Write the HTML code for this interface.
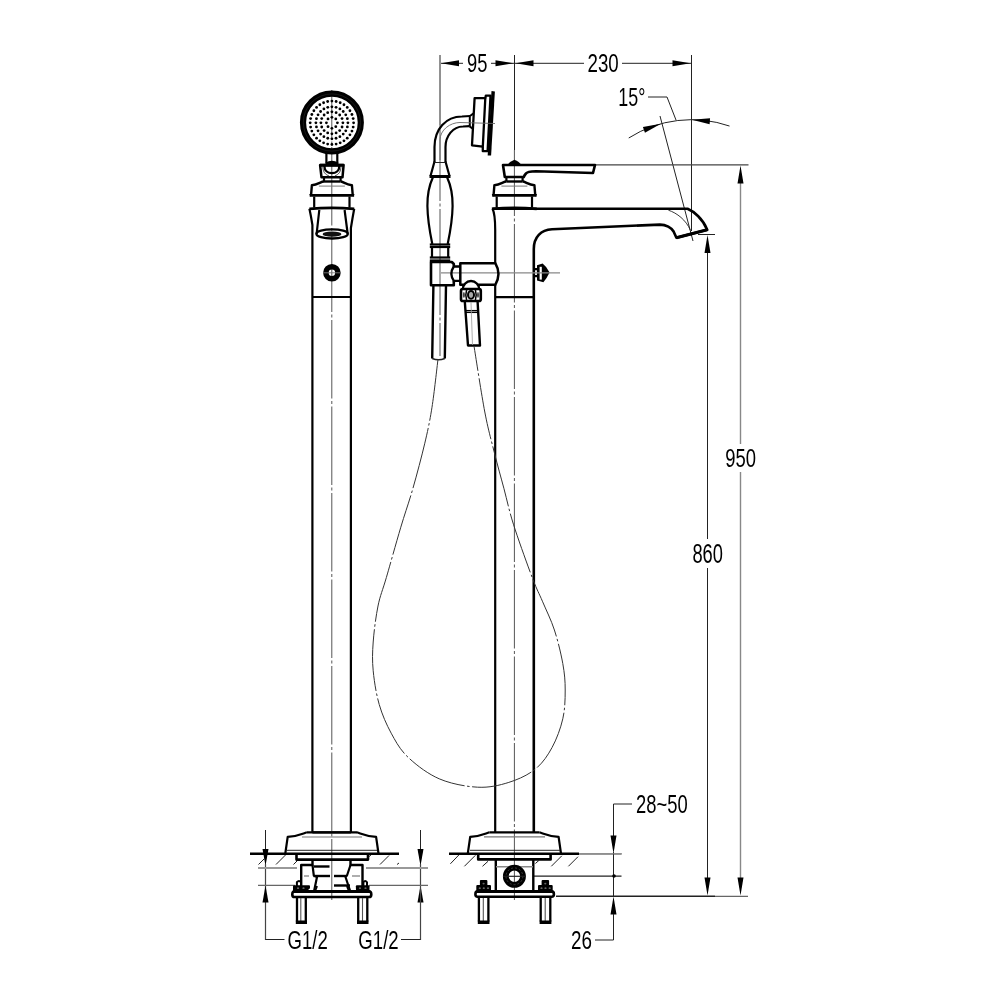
<!DOCTYPE html>
<html><head><meta charset="utf-8"><style>
html,body{margin:0;padding:0;background:#fff;width:1000px;height:1000px;overflow:hidden}
svg{display:block;will-change:transform}
.k{fill:none;stroke:#000;stroke-width:2.2;stroke-linejoin:round}
.t{fill:none;stroke:#222;stroke-width:1}
.tg{fill:none;stroke:#777;stroke-width:1.2}
.c{fill:none;stroke:#555;stroke-width:1;stroke-dasharray:80 2.5 3 2.5}
.a{fill:#000;stroke:none}
text{font-family:"Liberation Sans",sans-serif;fill:#000}
</style></head><body>
<svg width="1000" height="1000" viewBox="0 0 1000 1000">
<line x1="440" y1="55" x2="440" y2="125" fill="none" stroke="#222" stroke-width="1"/>
<line x1="514.5" y1="55" x2="514.5" y2="150" fill="none" stroke="#222" stroke-width="1"/>
<line x1="691.5" y1="55" x2="691.5" y2="231" fill="none" stroke="#222" stroke-width="1"/>
<line x1="441" y1="63.3" x2="463" y2="63.3" fill="none" stroke="#222" stroke-width="1"/>
<line x1="491" y1="63.3" x2="584" y2="63.3" fill="none" stroke="#222" stroke-width="1"/>
<line x1="622" y1="63.3" x2="691" y2="63.3" fill="none" stroke="#222" stroke-width="1"/>
<path fill="#000" d="M441.00,63.30 L459.00,60.30 L459.00,66.30 Z"/>
<path fill="#000" d="M513.50,63.30 L495.50,66.30 L495.50,60.30 Z"/>
<path fill="#000" d="M515.50,63.30 L533.50,60.30 L533.50,66.30 Z"/>
<path fill="#000" d="M690.50,63.30 L672.50,66.30 L672.50,60.30 Z"/>
<text x="466.97" y="72.14" font-size="25.92" textLength="20.40" lengthAdjust="spacingAndGlyphs" >95</text>
<text x="587.57" y="72.24" font-size="26.41" textLength="31.15" lengthAdjust="spacingAndGlyphs" >230</text>
<text x="618.26" y="106.34" font-size="26.20" textLength="27.06" lengthAdjust="spacingAndGlyphs" >15°</text>
<path d="M648,97 L667,97 L676,120" fill="none" stroke="#222" stroke-width="1"/>
<line x1="660" y1="116" x2="693" y2="241" fill="none" stroke="#222" stroke-width="1"/>
<path fill="none" stroke="#222" stroke-width="1" d="M628.74,137.99 A116.8,116.8 0 0 1 729.53,126.06"/>
<path fill="#000" d="M660.88,123.79 L644.93,132.65 L642.91,127.00 Z"/>
<path fill="#000" d="M691.91,119.70 L710.09,118.16 L709.61,124.14 Z"/>
<line x1="592" y1="164.8" x2="748.5" y2="164.8" fill="none" stroke="#444" stroke-width="1.2"/>
<line x1="740.5" y1="183" x2="740.5" y2="444" fill="none" stroke="#888" stroke-width="1.4"/>
<line x1="740.5" y1="472" x2="740.5" y2="878" fill="none" stroke="#888" stroke-width="1.4"/>
<path fill="#000" d="M740.50,165.50 L743.50,183.50 L737.50,183.50 Z"/>
<path fill="#000" d="M740.50,895.50 L737.50,877.50 L743.50,877.50 Z"/>
<text x="725.17" y="467.34" font-size="26.48" textLength="30.74" lengthAdjust="spacingAndGlyphs" >950</text>
<line x1="698" y1="234.5" x2="715" y2="234.5" fill="none" stroke="#222" stroke-width="1"/>
<line x1="707.5" y1="252" x2="707.5" y2="539" fill="none" stroke="#222" stroke-width="1"/>
<line x1="707.5" y1="568" x2="707.5" y2="878" fill="none" stroke="#222" stroke-width="1"/>
<path fill="#000" d="M707.50,235.00 L710.50,253.00 L704.50,253.00 Z"/>
<path fill="#000" d="M707.50,895.50 L704.50,877.50 L710.50,877.50 Z"/>
<text x="692.38" y="563.33" font-size="27.04" textLength="30.53" lengthAdjust="spacingAndGlyphs" >860</text>
<line x1="556" y1="896.3" x2="715" y2="896.3" fill="none" stroke="#222" stroke-width="1.6"/>
<line x1="715" y1="896.3" x2="748" y2="896.3" fill="none" stroke="#666" stroke-width="1.3"/>
<text x="636.08" y="813.23" font-size="26.62" textLength="51.63" lengthAdjust="spacingAndGlyphs" >28~50</text>
<path d="M632,804 L613.5,804 L613.5,836" fill="none" stroke="#222" stroke-width="1"/>
<path fill="#000" d="M613.50,853.50 L610.50,835.50 L616.50,835.50 Z"/>
<line x1="579" y1="854" x2="621.5" y2="854" fill="none" stroke="#444" stroke-width="1.2"/>
<line x1="613.5" y1="852" x2="613.5" y2="896" fill="none" stroke="#222" stroke-width="1"/>
<line x1="533" y1="876.2" x2="621.5" y2="876.2" fill="none" stroke="#222" stroke-width="1.3"/>
<circle cx="614" cy="876" r="1.8" fill="#000"/>
<path fill="#000" d="M613.50,896.50 L616.50,914.50 L610.50,914.50 Z"/>
<path d="M613.5,914 L613.5,940 L595,940" fill="none" stroke="#222" stroke-width="1"/>
<text x="571.06" y="949.43" font-size="26.62" textLength="20.94" lengthAdjust="spacingAndGlyphs" >26</text>
<line x1="265.5" y1="830" x2="265.5" y2="849" fill="none" stroke="#222" stroke-width="1"/>
<path fill="#000" d="M265.50,866.00 L262.50,849.00 L268.50,849.00 Z"/>
<line x1="265.5" y1="864" x2="265.5" y2="940" fill="none" stroke="#444" stroke-width="1.2"/>
<path fill="#000" d="M265.50,885.50 L268.50,902.50 L262.50,902.50 Z"/>
<line x1="265.5" y1="939.5" x2="284.5" y2="939.5" fill="none" stroke="#222" stroke-width="1"/>
<line x1="420.5" y1="830" x2="420.5" y2="849" fill="none" stroke="#222" stroke-width="1"/>
<path fill="#000" d="M420.50,866.00 L417.50,849.00 L423.50,849.00 Z"/>
<path fill="#000" d="M420.50,885.50 L423.50,902.50 L417.50,902.50 Z"/>
<line x1="420.5" y1="864" x2="420.5" y2="940" fill="none" stroke="#444" stroke-width="1.2"/>
<line x1="401" y1="939.5" x2="420.5" y2="939.5" fill="none" stroke="#222" stroke-width="1"/>
<text x="287.57" y="949.44" font-size="25.58" textLength="40.21" lengthAdjust="spacingAndGlyphs" >G1/2</text>
<text x="358.37" y="949.44" font-size="25.58" textLength="40.31" lengthAdjust="spacingAndGlyphs" >G1/2</text>
<line x1="258" y1="868" x2="297" y2="868" fill="none" stroke="#999" stroke-width="2"/>
<line x1="366" y1="868" x2="428" y2="868" fill="none" stroke="#999" stroke-width="2"/>
<line x1="258" y1="885.4" x2="295" y2="885.4" fill="none" stroke="#666" stroke-width="1.4"/>
<line x1="369" y1="885.4" x2="428" y2="885.4" fill="none" stroke="#666" stroke-width="1.4"/>
<line fill="none" stroke="#555" stroke-width="1" stroke-dasharray="78.5 2.5 3 2.5" x1="331.8" y1="90" x2="331.8" y2="900" stroke-dashoffset="29.5"/>
<circle cx="331.9" cy="122.5" r="28.9" fill="none" stroke="#000" stroke-width="6.2"/>
<circle cx="331.9" cy="122.5" r="28.6" fill="none" stroke="#2a2a2a" stroke-width="0.6"/>
<circle cx="331.90" cy="101.10" r="1.4" fill="#000"/>
<circle cx="336.13" cy="101.52" r="1.4" fill="#000"/>
<circle cx="340.20" cy="102.75" r="1.4" fill="#000"/>
<circle cx="343.96" cy="104.76" r="1.4" fill="#000"/>
<circle cx="347.24" cy="107.46" r="1.4" fill="#000"/>
<circle cx="349.94" cy="110.74" r="1.4" fill="#000"/>
<circle cx="351.95" cy="114.50" r="1.4" fill="#000"/>
<circle cx="353.18" cy="118.57" r="1.4" fill="#000"/>
<circle cx="353.60" cy="122.80" r="1.4" fill="#000"/>
<circle cx="353.18" cy="127.03" r="1.4" fill="#000"/>
<circle cx="351.95" cy="131.10" r="1.4" fill="#000"/>
<circle cx="349.94" cy="134.86" r="1.4" fill="#000"/>
<circle cx="347.24" cy="138.14" r="1.4" fill="#000"/>
<circle cx="343.96" cy="140.84" r="1.4" fill="#000"/>
<circle cx="340.20" cy="142.85" r="1.4" fill="#000"/>
<circle cx="336.13" cy="144.08" r="1.4" fill="#000"/>
<circle cx="331.90" cy="144.50" r="1.4" fill="#000"/>
<circle cx="327.67" cy="144.08" r="1.4" fill="#000"/>
<circle cx="323.60" cy="142.85" r="1.4" fill="#000"/>
<circle cx="319.84" cy="140.84" r="1.4" fill="#000"/>
<circle cx="316.56" cy="138.14" r="1.4" fill="#000"/>
<circle cx="313.86" cy="134.86" r="1.4" fill="#000"/>
<circle cx="311.85" cy="131.10" r="1.4" fill="#000"/>
<circle cx="310.62" cy="127.03" r="1.4" fill="#000"/>
<circle cx="310.20" cy="122.80" r="1.4" fill="#000"/>
<circle cx="310.62" cy="118.57" r="1.4" fill="#000"/>
<circle cx="311.85" cy="114.50" r="1.4" fill="#000"/>
<circle cx="313.86" cy="110.74" r="1.4" fill="#000"/>
<circle cx="316.56" cy="107.46" r="1.4" fill="#000"/>
<circle cx="319.84" cy="104.76" r="1.4" fill="#000"/>
<circle cx="323.60" cy="102.75" r="1.4" fill="#000"/>
<circle cx="327.67" cy="101.52" r="1.4" fill="#000"/>
<circle cx="331.90" cy="106.80" r="1.4" fill="#000"/>
<circle cx="336.04" cy="107.35" r="1.4" fill="#000"/>
<circle cx="339.90" cy="108.94" r="1.4" fill="#000"/>
<circle cx="343.21" cy="111.49" r="1.4" fill="#000"/>
<circle cx="345.76" cy="114.80" r="1.4" fill="#000"/>
<circle cx="347.35" cy="118.66" r="1.4" fill="#000"/>
<circle cx="347.90" cy="122.80" r="1.4" fill="#000"/>
<circle cx="347.35" cy="126.94" r="1.4" fill="#000"/>
<circle cx="345.76" cy="130.80" r="1.4" fill="#000"/>
<circle cx="343.21" cy="134.11" r="1.4" fill="#000"/>
<circle cx="339.90" cy="136.66" r="1.4" fill="#000"/>
<circle cx="336.04" cy="138.25" r="1.4" fill="#000"/>
<circle cx="331.90" cy="138.80" r="1.4" fill="#000"/>
<circle cx="327.76" cy="138.25" r="1.4" fill="#000"/>
<circle cx="323.90" cy="136.66" r="1.4" fill="#000"/>
<circle cx="320.59" cy="134.11" r="1.4" fill="#000"/>
<circle cx="318.04" cy="130.80" r="1.4" fill="#000"/>
<circle cx="316.45" cy="126.94" r="1.4" fill="#000"/>
<circle cx="315.90" cy="122.80" r="1.4" fill="#000"/>
<circle cx="316.45" cy="118.66" r="1.4" fill="#000"/>
<circle cx="318.04" cy="114.80" r="1.4" fill="#000"/>
<circle cx="320.59" cy="111.49" r="1.4" fill="#000"/>
<circle cx="323.90" cy="108.94" r="1.4" fill="#000"/>
<circle cx="327.76" cy="107.35" r="1.4" fill="#000"/>
<circle cx="331.90" cy="111.80" r="1.4" fill="#000"/>
<circle cx="336.11" cy="112.64" r="1.4" fill="#000"/>
<circle cx="339.68" cy="115.02" r="1.4" fill="#000"/>
<circle cx="342.06" cy="118.59" r="1.4" fill="#000"/>
<circle cx="342.90" cy="122.80" r="1.4" fill="#000"/>
<circle cx="342.06" cy="127.01" r="1.4" fill="#000"/>
<circle cx="339.68" cy="130.58" r="1.4" fill="#000"/>
<circle cx="336.11" cy="132.96" r="1.4" fill="#000"/>
<circle cx="331.90" cy="133.80" r="1.4" fill="#000"/>
<circle cx="327.69" cy="132.96" r="1.4" fill="#000"/>
<circle cx="324.12" cy="130.58" r="1.4" fill="#000"/>
<circle cx="321.74" cy="127.01" r="1.4" fill="#000"/>
<circle cx="320.90" cy="122.80" r="1.4" fill="#000"/>
<circle cx="321.74" cy="118.59" r="1.4" fill="#000"/>
<circle cx="324.12" cy="115.02" r="1.4" fill="#000"/>
<circle cx="327.69" cy="112.64" r="1.4" fill="#000"/>
<circle cx="331.90" cy="117.30" r="1.4" fill="#000"/>
<circle cx="335.79" cy="118.91" r="1.4" fill="#000"/>
<circle cx="337.40" cy="122.80" r="1.4" fill="#000"/>
<circle cx="335.79" cy="126.69" r="1.4" fill="#000"/>
<circle cx="331.90" cy="128.30" r="1.4" fill="#000"/>
<circle cx="328.01" cy="126.69" r="1.4" fill="#000"/>
<circle cx="326.40" cy="122.80" r="1.4" fill="#000"/>
<circle cx="328.01" cy="118.91" r="1.4" fill="#000"/>
<line x1="326.4" y1="153" x2="326.4" y2="163" fill="none" stroke="#000" stroke-width="2.2" stroke-linejoin="round"/>
<line x1="337.3" y1="153" x2="337.3" y2="163" fill="none" stroke="#000" stroke-width="2.2" stroke-linejoin="round"/>
<path d="M320.1,165.1 L343.6,165.1 L342.5,177.3 L321.5,177.3 Z" fill="none" stroke="#000" stroke-width="2.5" stroke-linejoin="round"/>
<path d="M325.4,166 L325.4,162.8 Q331.9,158.6 338.5,162.8 L338.5,166 Z" fill="#000" stroke="none"/>
<line x1="320.1" y1="165.3" x2="343.6" y2="165.3" fill="none" stroke="#000" stroke-width="3" stroke-linejoin="round"/>
<path d="M324.4,166 C324.4,171 328,173.2 331.9,173.2 C335.8,173.2 339.3,171 339.3,166" fill="none" stroke="#000" stroke-width="2.3" stroke-linejoin="round"/>
<path d="M322.8,167 Q323,174 329,176 M341,167 Q340.8,174 334.8,176" fill="none" stroke="#222" stroke-width="0.8"/>
<path d="M324.0,177.3 L324.0,181.5 M340.59999999999997,177.3 L340.59999999999997,181.5" fill="none" stroke="#000" stroke-width="2.2" stroke-linejoin="round"/>
<line x1="324.0" y1="181.5" x2="340.59999999999997" y2="181.5" fill="none" stroke="#000" stroke-width="2.4" stroke-linejoin="round"/>
<path d="M324.0,181.5 C320.9,181.5 317.9,184.8 311.9,185.2 L311.09999999999997,194.6 L310.0,195.5" fill="none" stroke="#000" stroke-width="2.4" stroke-linejoin="round"/>
<path d="M340.59999999999997,181.5 C342.9,181.5 345.9,184.8 351.9,185.2 L352.7,194.6 L353.79999999999995,195.5" fill="none" stroke="#000" stroke-width="2.4" stroke-linejoin="round"/>
<line x1="318.9" y1="186.1" x2="344.9" y2="186.1" fill="none" stroke="#777" stroke-width="1"/>
<line x1="309.7" y1="195.4" x2="354.09999999999997" y2="195.4" fill="none" stroke="#000" stroke-width="2.9" stroke-linejoin="round"/>
<line x1="314.2" y1="196.5" x2="314.2" y2="207.6" fill="none" stroke="#000" stroke-width="2.2" stroke-linejoin="round"/>
<line x1="349.5" y1="196.5" x2="349.5" y2="207.6" fill="none" stroke="#000" stroke-width="2.2" stroke-linejoin="round"/>
<path d="M309.4,208.8 Q331.9,206.8 354.2,208.8" fill="none" stroke="#000" stroke-width="2.8" stroke-linejoin="round"/>
<path d="M309.4,208.8 Q310.8,215 312.4,225 L312.4,832" fill="none" stroke="#000" stroke-width="2.2" stroke-linejoin="round"/>
<path d="M354.2,208.8 Q352.5,218 350.9,228 L350.9,832" fill="none" stroke="#000" stroke-width="2.2" stroke-linejoin="round"/>
<path d="M319.3,210 L316.6,234 M344.6,210 L347.7,234" fill="none" stroke="#000" stroke-width="2.2" stroke-linejoin="round"/>
<ellipse cx="332.1" cy="233.9" rx="15.7" ry="4.6" fill="none" stroke="#000" stroke-width="2.3"/>
<ellipse cx="332" cy="234.2" rx="9.4" ry="2.6" fill="#111"/>
<circle cx="331.9" cy="272.8" r="6" fill="none" stroke="#000" stroke-width="5.6"/>
<line x1="323" y1="272.8" x2="340.8" y2="272.8" fill="none" stroke="#777" stroke-width="0.9"/>
<line x1="312.4" y1="297" x2="350.9" y2="297" fill="none" stroke="#000" stroke-width="2.2" stroke-linejoin="round"/>
<line fill="none" stroke="#555" stroke-width="1" stroke-dasharray="78.5 2.5 3 2.5" x1="514.4" y1="150" x2="514.4" y2="900" stroke-dashoffset="12.5"/>
<path d="M506.8,165.5 Q509.5,161.5 514.4,159.8 Q519.3,161.5 521.5,165.5 Z" fill="#000" stroke="none"/>
<path d="M503,165 L595,165 L593,173 L536,171.3 C530,171.5 527,172 526,173.5 Q524.5,175 523.8,177 L504.8,177 Z" fill="none" stroke="#000" stroke-width="2.6" stroke-linejoin="round"/>
<path d="M506.4,177.3 L506.4,181.5 M522.6,177.3 L522.6,181.5" fill="none" stroke="#000" stroke-width="2.2" stroke-linejoin="round"/>
<line x1="506.4" y1="181.5" x2="522.6" y2="181.5" fill="none" stroke="#000" stroke-width="2.4" stroke-linejoin="round"/>
<path d="M506.4,181.5 C503.4,181.5 500.4,184.8 494.4,185.2 L493.59999999999997,194.6 L492.5,195.5" fill="none" stroke="#000" stroke-width="2.4" stroke-linejoin="round"/>
<path d="M522.6,181.5 C525.4,181.5 528.4,184.8 534.4,185.2 L535.1999999999999,194.6 L536.3,195.5" fill="none" stroke="#000" stroke-width="2.4" stroke-linejoin="round"/>
<line x1="501.4" y1="186.1" x2="527.4" y2="186.1" fill="none" stroke="#777" stroke-width="1"/>
<line x1="492.2" y1="195.4" x2="536.6" y2="195.4" fill="none" stroke="#000" stroke-width="2.9" stroke-linejoin="round"/>
<line x1="496.7" y1="196.5" x2="496.7" y2="207.6" fill="none" stroke="#000" stroke-width="2.2" stroke-linejoin="round"/>
<line x1="532.0" y1="196.5" x2="532.0" y2="207.6" fill="none" stroke="#000" stroke-width="2.2" stroke-linejoin="round"/>
<path d="M491.9,208.8 Q514.4,206.8 536.6999999999999,208.8" fill="none" stroke="#000" stroke-width="2.8" stroke-linejoin="round"/>
<path d="M492.5,208.8 L687.6,208.8 C694,211.5 703,219 707.2,229.8 L676.4,237.8 L673.6,231.5 C671.5,227.8 666,224.6 660,224.6 L552,229.3 C541,229.8 533.8,237 533.8,249 L533.8,832" fill="none" stroke="#000" stroke-width="2.6" stroke-linejoin="round"/>
<path d="M707.2,229.8 L676.4,237.8" fill="none" stroke="#000" stroke-width="3.2" stroke-linejoin="round"/>
<path d="M668.4,210.2 C677,213 686,220 690.4,230.2" fill="none" stroke="#222" stroke-width="0.9"/>
<path d="M492.5,208.8 Q495.2,214 495.2,230 L495.2,263.5 M495.2,285 L495.2,832" fill="none" stroke="#000" stroke-width="2.2" stroke-linejoin="round"/>
<path d="M533.8,269.2 L538,269.2 L538,276.2 L533.8,276.2" fill="none" stroke="#000" stroke-width="2.2" stroke-linejoin="round"/>
<path d="M537,265.2 L542.6,263.6 Q546.5,266.5 549.6,272.6 Q546.5,279 543.4,282.2 L537,280.4 Z" fill="#000" stroke="none"/>
<rect x="539.6" y="266.8" width="2.2" height="12.8" fill="#fff"/>
<line x1="441" y1="272.8" x2="560" y2="272.8" fill="none" stroke="#888" stroke-width="1.2"/>
<line x1="495.2" y1="297.2" x2="533.8" y2="297.2" fill="none" stroke="#000" stroke-width="2.2" stroke-linejoin="round"/>
<line fill="none" stroke="#555" stroke-width="1" stroke-dasharray="106 2.5 3 2.5" x1="440" y1="125" x2="440" y2="356" stroke-dashoffset="30"/>
<path d="M474.6,98.2 L485.3,98.2 L482.8,146.7 L472,145.3 Z" fill="none" stroke="#000" stroke-width="2.3" stroke-linejoin="round"/>
<path d="M485.3,98.2 L485.8,95.6 L490.5,95.6 L487.6,151.2 L482.8,151.2 L482.8,146.7" fill="none" stroke="#000" stroke-width="2.3" stroke-linejoin="round"/>
<path d="M491.5,91.1 L494.9,91.4 L491.1,155.4 L487.7,155.4 Z" fill="#000" stroke="none"/>
<path d="M469.6,116.2 L473.6,113.4 M469.6,126.4 L473.4,129.2 M469.8,116.2 L469.8,126.4" fill="none" stroke="#000" stroke-width="2" stroke-linejoin="round"/>
<path d="M434.5,162 L434.5,147 C434.5,129 446,116.5 462,116.5 L470,116" fill="none" stroke="#000" stroke-width="2.2" stroke-linejoin="round"/>
<path d="M445.5,162 L445.5,147 C445.5,136 453,126.5 463,126.5 L469.5,126.2" fill="none" stroke="#000" stroke-width="2.2" stroke-linejoin="round"/>
<path d="M440,160 L440,140 C440,130 450,122.5 460,122.5 L495,123.5" fill="none" stroke="#666" stroke-width="0.9"/>
<path d="M434.5,161.5 L430.5,176 M445.5,161.5 L449.5,176" fill="none" stroke="#000" stroke-width="2.2" stroke-linejoin="round"/>
<line x1="434.5" y1="162.5" x2="445.5" y2="162.5" fill="none" stroke="#222" stroke-width="1"/>
<line x1="429.5" y1="176.5" x2="450.5" y2="176.5" fill="none" stroke="#000" stroke-width="3" stroke-linejoin="round"/>
<path d="M432.8,177.5 C428.5,187 427.3,197 427.4,206 C427.6,220 430,233 432.3,244" fill="none" stroke="#000" stroke-width="2.2" stroke-linejoin="round"/>
<path d="M447.2,177.5 C451.5,187 452.7,197 452.6,206 C452.4,220 450,233 447.7,244" fill="none" stroke="#000" stroke-width="2.2" stroke-linejoin="round"/>
<line x1="429.8" y1="244.5" x2="450.2" y2="244.5" fill="none" stroke="#000" stroke-width="2.2" stroke-linejoin="round"/>
<line x1="429.8" y1="247" x2="450.2" y2="247" fill="none" stroke="#000" stroke-width="2.2" stroke-linejoin="round"/>
<path d="M432,247 L432,258 M448.2,247 L448.2,258" fill="none" stroke="#000" stroke-width="2.2" stroke-linejoin="round"/>
<line x1="429.8" y1="257.5" x2="450.2" y2="257.5" fill="none" stroke="#000" stroke-width="2.2" stroke-linejoin="round"/>
<line x1="429.8" y1="260.5" x2="450.2" y2="260.5" fill="none" stroke="#000" stroke-width="2.2" stroke-linejoin="round"/>
<path d="M453.8,266.5 L453.8,264 L451.8,262 L431,262 L431,285.3 L453.8,285.3 L453.8,280.9" fill="none" stroke="#000" stroke-width="2.6" stroke-linejoin="round"/>
<path d="M460.3,266.5 L453.8,266.5 Q449,273.7 453.8,280.9 L460.3,280.9" fill="none" stroke="#000" stroke-width="2.3" stroke-linejoin="round"/>
<path d="M460.3,263.2 L495.3,263.2 Q501.6,274 495.3,284.8 L460.3,284.8 Z" fill="none" stroke="#000" stroke-width="2.5" stroke-linejoin="round"/>
<path d="M462.8,289.5 A8.2,8.5 0 0 1 479.2,289.5 Z" fill="#fff" stroke="#000" stroke-width="2.4" stroke-linejoin="round"/>
<rect x="461" y="289" width="19.8" height="12" rx="1.8" fill="#fff" stroke="#000" stroke-width="2.6"/>
<ellipse cx="471" cy="294.9" rx="3" ry="3.8" fill="#aaa" stroke="#000" stroke-width="2"/>
<ellipse cx="463.9" cy="295" rx="1" ry="3" fill="#444"/>
<ellipse cx="478" cy="295" rx="1" ry="3" fill="#444"/>
<path d="M466.6,290 Q465,295 466.6,300 M475.4,290 Q477,295 475.4,300" fill="none" stroke="#000" stroke-width="1.5" stroke-linejoin="round"/>
<path d="M464.8,301.5 L468,345.5 L480,345.5 L477.6,301.5" fill="none" stroke="#000" stroke-width="2.4" stroke-linejoin="round"/>
<line x1="465.5" y1="310.6" x2="477.8" y2="310.6" fill="none" stroke="#000" stroke-width="1.3" stroke-linejoin="round"/>
<line x1="465.6" y1="312.4" x2="477.9" y2="312.4" fill="none" stroke="#000" stroke-width="1.3" stroke-linejoin="round"/>
<line x1="471" y1="302" x2="472.5" y2="345" fill="none" stroke="#999" stroke-width="0.8"/>
<path d="M433.4,285.3 L432.2,358.5 M446,285.3 L444.8,358.5" fill="none" stroke="#000" stroke-width="2.4" stroke-linejoin="round"/>
<path d="M432.2,358.5 Q438.5,361 444.8,358.5" fill="none" stroke="#222" stroke-width="1.4"/>
<path d="M438,359.2 C437.0,367.2 434.2,393.2 432,407.2 C429.8,421.2 428.0,429.6 424.8,443.2 C421.6,456.8 416.8,474.8 412.8,488.8 C408.8,502.8 405.2,512.4 400.8,527.2 C396.4,542.0 390.2,564.3 386.4,577.4 C382.6,590.5 380.2,595.2 378,606 C375.8,616.8 374.0,631.2 373.2,642 C372.4,652.8 372.2,660.4 373.2,670.8 C374.2,681.2 376.2,694.0 379.2,704.4 C382.2,714.8 386.4,724.4 391.2,733.2 C396.0,742.0 400.0,749.6 408,757.2 C416.0,764.8 427.6,773.8 439.2,778.8 C450.8,783.8 466.0,786.6 477.6,787.2 C489.2,787.8 499.2,785.4 508.8,782.4 C518.4,779.4 528.0,775.0 535.2,769.2 C542.4,763.4 547.4,756.0 552,747.6 C556.6,739.2 560.6,728.4 562.8,718.8 C565.0,709.2 565.2,699.2 565.2,690 C565.2,680.8 564.6,673.6 562.8,663.6 C561.0,653.6 557.8,640.4 554.4,630 C551.0,619.6 546.1,610.0 542.4,601.2 C538.7,592.5 537.0,590.2 532.2,577.5 C527.4,564.8 518.3,539.6 513.6,524.8 C508.9,510.0 507.2,500.8 504,488.8 C500.8,476.8 497.6,465.6 494.4,452.8 C491.2,440.0 488.2,429.8 484.8,412 C481.4,394.2 475.8,357.0 474,346" fill="none" stroke="#333" stroke-width="1" stroke-dasharray="62 2.5 2.5 2.5"/>
<path d="M312.4,832.4 L350.9,832.4" fill="none" stroke="#000" stroke-width="2.2" stroke-linejoin="round"/>
<path d="M307,832.4 L357,832.4" fill="none" stroke="#000" stroke-width="2.2" stroke-linejoin="round"/>
<path d="M306.9,832.3 C302.5,833.6 297.5,836.4 287.7,836.9 L285.3,853.5" fill="none" stroke="#000" stroke-width="2.2" stroke-linejoin="round"/>
<path d="M356.9,832.3 C361.3,833.6 366.3,836.4 376.1,836.9 L378.5,853.5" fill="none" stroke="#000" stroke-width="2.2" stroke-linejoin="round"/>
<line x1="302" y1="837" x2="362" y2="837" fill="none" stroke="#777" stroke-width="1.2"/>
<line x1="287" y1="850.3" x2="377" y2="850.3" fill="none" stroke="#222" stroke-width="1"/>
<line x1="250" y1="853.8" x2="399" y2="853.8" fill="none" stroke="#000" stroke-width="2.6" stroke-linejoin="round"/>
<path d="M296.5,854 L296.5,859.6 L368,859.6 L368,854" fill="none" stroke="#000" stroke-width="2.6" stroke-linejoin="round"/>
<line x1="258.5" y1="864.5" x2="265" y2="858" fill="none" stroke="#222" stroke-width="1"/>
<line x1="276" y1="864.5" x2="285.5" y2="855" fill="none" stroke="#222" stroke-width="1"/>
<line x1="293.5" y1="864.5" x2="297" y2="861" fill="none" stroke="#222" stroke-width="1"/>
<line x1="368.5" y1="857" x2="371" y2="855" fill="none" stroke="#222" stroke-width="1"/>
<line x1="380" y1="864.5" x2="389" y2="855.5" fill="none" stroke="#222" stroke-width="1"/>
<line x1="397" y1="864.5" x2="399" y2="863" fill="none" stroke="#222" stroke-width="1"/>
<path d="M312.5,859.6 L312.5,865 L301.2,865 L301.2,891" fill="none" stroke="#000" stroke-width="2.4" stroke-linejoin="round"/>
<path d="M350.5,859.6 L350.5,865 L362.5,865 L362.5,891" fill="none" stroke="#000" stroke-width="2.4" stroke-linejoin="round"/>
<path d="M312.5,865 L313.8,875.5 L317,877 L314.2,890.5" fill="none" stroke="#000" stroke-width="2.2" stroke-linejoin="round"/>
<path d="M350.5,865 L347,875.5 L345.5,877 L350,890.5" fill="none" stroke="#000" stroke-width="2.2" stroke-linejoin="round"/>
<line x1="314" y1="866.5" x2="329.5" y2="866.5" fill="none" stroke="#000" stroke-width="2.4" stroke-linejoin="round"/>
<line x1="313.5" y1="876" x2="330" y2="876" fill="none" stroke="#000" stroke-width="2.4" stroke-linejoin="round"/>
<line x1="334" y1="876" x2="347" y2="876" fill="none" stroke="#000" stroke-width="2.4" stroke-linejoin="round"/>
<line x1="334" y1="885.5" x2="350" y2="885.5" fill="none" stroke="#000" stroke-width="2.4" stroke-linejoin="round"/>
<line x1="304" y1="876" x2="309" y2="876" fill="none" stroke="#777" stroke-width="1.2"/>
<line x1="352" y1="876" x2="360" y2="876" fill="none" stroke="#777" stroke-width="1.2"/>
<rect x="293" y="885.3" width="17" height="6.7000000000000455" rx="1" fill="#000"/>
<ellipse cx="298" cy="888.2" rx="1.1" ry="0.9" fill="#666"/>
<ellipse cx="303.5" cy="888.2" rx="1.1" ry="0.9" fill="#666"/>
<path d="M296.9,886 L296.9,882.2 Q299,879.6 301,882.2 L301,886" fill="none" stroke="#000" stroke-width="2" stroke-linejoin="round"/>
<ellipse cx="310.6" cy="889.2" rx="2.2" ry="1.1" fill="#fff" transform="rotate(-15 310.6 889.2)"/>
<rect x="355.9" y="885.3" width="13.600000000000023" height="6.7000000000000455" rx="1" fill="#000"/>
<ellipse cx="360" cy="888.2" rx="1.1" ry="0.9" fill="#666"/>
<ellipse cx="365.5" cy="888.2" rx="1.1" ry="0.9" fill="#666"/>
<path d="M363.4,886 L363.4,882.2 Q365.2,879.6 367,882.2 L367,886" fill="none" stroke="#000" stroke-width="2" stroke-linejoin="round"/>
<ellipse cx="353.8" cy="889.2" rx="2.2" ry="1.1" fill="#fff" transform="rotate(15 353.8 889.2)"/>
<path d="M317,886 Q316,890.5 314,891 M347,886 Q348,890.5 350,891" fill="none" stroke="#000" stroke-width="1.8" stroke-linejoin="round"/>
<path d="M294.5,891.2 L369,891.2 Q371.3,891.2 371.3,894.4 Q371.3,897 369,897 L294.5,897 Q292.3,897 292.3,894.4 Q292.3,891.2 294.5,891.2 Z" fill="none" stroke="#000" stroke-width="2.6" stroke-linejoin="round"/>
<line x1="293.5" y1="891.6" x2="370" y2="891.6" fill="none" stroke="#000" stroke-width="2.6" stroke-linejoin="round"/>
<path d="M297,897.3 L297,921.5 M305.8,897.3 L305.8,921.5 M358.2,897.3 L358.2,921.5 M367.3,897.3 L367.3,921.5" fill="none" stroke="#000" stroke-width="2.3" stroke-linejoin="round"/>
<line x1="300.8" y1="898" x2="300.8" y2="921" fill="none" stroke="#555" stroke-width="1.1"/>
<line x1="362.5" y1="898" x2="362.5" y2="921" fill="none" stroke="#555" stroke-width="1.1"/>
<path d="M295.8,922.3 L307,922.3 M357,922.3 L368.5,922.3" fill="none" stroke="#000" stroke-width="3.4" stroke-linejoin="round"/>
<path d="M489.4,832.3 L539.4,832.3" fill="none" stroke="#000" stroke-width="2.2" stroke-linejoin="round"/>
<path d="M489.4,832.3 C485,833.6 480,836.4 470.2,836.9 L467.8,853.5" fill="none" stroke="#000" stroke-width="2.2" stroke-linejoin="round"/>
<path d="M539.4,832.3 C543.8,833.6 548.8,836.4 558.6,836.9 L561,853.5" fill="none" stroke="#000" stroke-width="2.2" stroke-linejoin="round"/>
<line x1="484" y1="836.8" x2="545" y2="836.8" fill="none" stroke="#777" stroke-width="1.2"/>
<line x1="470" y1="850.3" x2="560" y2="850.3" fill="none" stroke="#222" stroke-width="1"/>
<line x1="449" y1="853.8" x2="579" y2="853.8" fill="none" stroke="#000" stroke-width="2.6" stroke-linejoin="round"/>
<line x1="579" y1="853.8" x2="622" y2="853.8" fill="none" stroke="#888" stroke-width="1"/>
<path d="M478.2,854 L478.2,859.4 L550.6,859.4 L550.6,854" fill="none" stroke="#000" stroke-width="2.6" stroke-linejoin="round"/>
<line x1="464.4" y1="866.3" x2="475.4" y2="855.3" fill="none" stroke="#222" stroke-width="1"/>
<line x1="482.5" y1="866.3" x2="488" y2="861.3" fill="none" stroke="#222" stroke-width="1"/>
<line x1="535.4" y1="863.5" x2="539.2" y2="860.2" fill="none" stroke="#222" stroke-width="1"/>
<line x1="551.3" y1="866.3" x2="561.8" y2="855.8" fill="none" stroke="#222" stroke-width="1"/>
<line x1="568.4" y1="866.3" x2="578" y2="856.7" fill="none" stroke="#222" stroke-width="1"/>
<line x1="450.4" y1="863.8" x2="459" y2="854.8" fill="none" stroke="#222" stroke-width="1"/>
<path d="M495.8,859.4 L495.8,890.8 M533.3,859.4 L533.3,890.8" fill="none" stroke="#000" stroke-width="2.4" stroke-linejoin="round"/>
<line x1="496" y1="866.8" x2="533" y2="866.8" fill="none" stroke="#888" stroke-width="1.6"/>
<circle cx="514.4" cy="876.3" r="8.6" fill="none" stroke="#000" stroke-width="5.8"/>
<circle cx="514.4" cy="876.3" r="8.4" fill="none" stroke="#555" stroke-width="0.7" stroke-dasharray="2 2"/>
<line x1="503" y1="876.3" x2="526" y2="876.3" fill="none" stroke="#222" stroke-width="1.2"/>
<rect x="476.3" y="885" width="14.699999999999989" height="6.5" rx="1" fill="#000"/>
<ellipse cx="479.8" cy="888.2" rx="1.1" ry="0.9" fill="#666"/>
<ellipse cx="483.8" cy="888.2" rx="1.1" ry="0.9" fill="#666"/>
<ellipse cx="488" cy="888.2" rx="1.1" ry="0.9" fill="#666"/>
<rect x="479.9" y="880" width="7.5" height="6" rx="1" fill="#000"/>
<ellipse cx="483.6" cy="883.6" rx="1.1" ry="0.9" fill="#666"/>
<rect x="538" y="885" width="14.700000000000045" height="6.5" rx="1" fill="#000"/>
<ellipse cx="541.5" cy="888.2" rx="1.1" ry="0.9" fill="#666"/>
<ellipse cx="545.5" cy="888.2" rx="1.1" ry="0.9" fill="#666"/>
<ellipse cx="549.7" cy="888.2" rx="1.1" ry="0.9" fill="#666"/>
<rect x="541.6" y="880" width="7.5" height="6" rx="1" fill="#000"/>
<ellipse cx="545.3" cy="883.6" rx="1.1" ry="0.9" fill="#666"/>
<path d="M477.6,891.4 L551.6,891.4 Q553.9,891.4 553.9,894.3 Q553.9,896.8 551.6,896.8 L477.6,896.8 Q475.4,896.8 475.4,894.3 Q475.4,891.4 477.6,891.4 Z" fill="none" stroke="#000" stroke-width="2.6" stroke-linejoin="round"/>
<line x1="476.5" y1="891.8" x2="552.8" y2="891.8" fill="none" stroke="#000" stroke-width="2.4" stroke-linejoin="round"/>
<path d="M478.9,897.2 L478.9,921.5 M488.4,897.2 L488.4,921.5 M540.7,897.2 L540.7,921.5 M550.3,897.2 L550.3,921.5" fill="none" stroke="#000" stroke-width="2.3" stroke-linejoin="round"/>
<line x1="483.3" y1="898" x2="483.3" y2="921" fill="none" stroke="#555" stroke-width="1.1"/>
<line x1="545.2" y1="898" x2="545.2" y2="921" fill="none" stroke="#555" stroke-width="1.1"/>
<path d="M477.8,922.3 L489.5,922.3 M539.6,922.3 L551.4,922.3" fill="none" stroke="#000" stroke-width="3.4" stroke-linejoin="round"/>
</svg></body></html>
